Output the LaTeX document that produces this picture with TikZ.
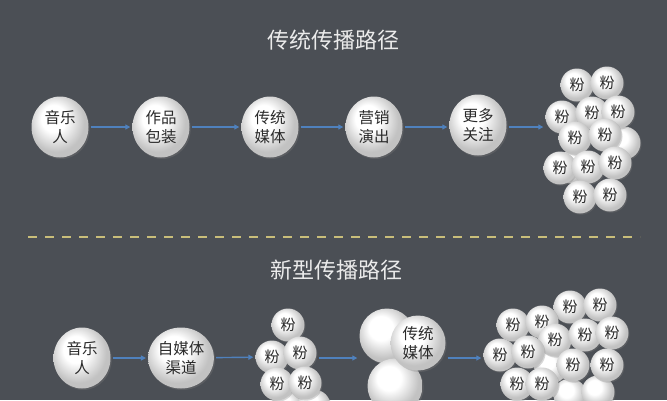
\documentclass[tikz,border=0pt]{standalone}
\usepackage{fontspec}
\newfontfamily\cjk{Noto Sans CJK SC}
\usetikzlibrary{arrows.meta,shapes.geometric,shadows}

\definecolor{bgdark}{HTML}{4B4F55}
\definecolor{arrblue}{HTML}{4F81BD}
\definecolor{dashyel}{HTML}{C9BE7A}
\definecolor{txtdark}{HTML}{2A2A2A}
\pgfdeclareradialshading{pearl}{\pgfpoint{-7bp}{9bp}}{%
  color(0bp)=(white); color(11bp)=(white); color(25bp)=(gray!48); color(50bp)=(gray!48)}

\begin{document}
\begin{tikzpicture}[
    x=1pt, y=-1pt,
    title/.style={text=white!92!black, font=\cjk\fontsize{22}{26}\selectfont},
    stage/.style={ellipse, shade, shading=pearl, minimum width=57pt, minimum height=61pt,
                  inner sep=0pt, align=center, text=txtdark,
                  font=\cjk\fontsize{15.5}{19}\selectfont,
                  drop shadow={opacity=0.3, shadow xshift=1.2pt, shadow yshift=-1.5pt}},
    fan/.style={circle, shade, shading=pearl, minimum size=33pt, inner sep=0pt,
                text=txtdark, font=\cjk\fontsize{15}{17}\selectfont,
                drop shadow={opacity=0.3, shadow xshift=1pt, shadow yshift=-1.2pt}},
    bigball/.style={circle, shade, shading=pearl, minimum size=55pt, inner sep=0pt,
                align=center, text=txtdark, font=\cjk\fontsize{15.5}{19}\selectfont,
                drop shadow={opacity=0.3, shadow xshift=1.2pt, shadow yshift=-1.5pt}},
    arr/.style={-{Triangle[length=5pt,width=5pt]}, arrblue, line width=1.4pt,
                shorten <=2pt, shorten >=2pt},
]
  \useasboundingbox (0,0) rectangle (667,400);
  \clip (0,0) rectangle (667,400);
  \fill[bgdark] (0,0) rectangle (667,400);

  % traditional path
  \node[title] (ttitle) at (333,40) {传统传播路径};
  \node[stage] (t1) at (60,127)  {音乐\\人};
  \node[stage] (t2) at (161,127) {作品\\包装};
  \node[stage] (t3) at (270,127) {传统\\媒体};
  \node[stage] (t4) at (374,127) {营销\\演出};
  \node[stage] (t5) at (478,125) {更多\\关注};

  \node[fan] (th1) at (624,143) {};
  \node[fan] (th2) at (572,167) {};
  \foreach \px/\py [count=\i] in {577/85, 607/83, 562/117, 592/113, 618/112,
      575/138, 605/135, 560/168, 588/167, 615/163, 580/197, 610/195}
    \node[fan] (tf\i) at (\px,\py) {粉};

  \draw[arr] (t1) -- (t2);
  \draw[arr] (t2) -- (t3);
  \draw[arr] (t3) -- (t4);
  \draw[arr] (t4) -- (t5.west |- t4);
  \draw[arr] (t5.east |- t4) -- (t4 -| tf3.west);

  % separator
  \coordinate (sepl) at (28,237);
  \coordinate (sepr) at (640,237);
  \draw[dashyel, line width=1.3pt, dash pattern=on 9pt off 8pt] (sepl) -- (sepr);

  % new path
  \node[title] (ntitle) at (336,270) {新型传播路径};
  \node[stage] (b1) at (82,358)  {音乐\\人};
  \node[stage] (b2) at (181,358) {自媒体\\渠道};

  \node[fan] (mh1) at (287,408) {};
  \node[fan] (mh2) at (314,406) {};
  \foreach \px/\py [count=\i] in {288/325, 272/357, 300/353, 277/384, 305/383}
    \node[fan] (mf\i) at (\px,\py) {粉};

  \node[bigball] (bg1) at (387,336) {};
  \node[bigball] (bg3) at (395,386) {};
  \node[bigball] (bg2) at (418,343) {传统\\媒体};

  \node[fan] (nh1) at (551,367) {};
  \node[fan] (nh2) at (570,395) {};
  \node[fan] (nh3) at (598,392) {};
  \foreach \px/\py [count=\i] in {570/307, 600/305, 513/325, 542/322,
      555/340, 585/335, 612/333, 500/355, 528/352, 573/365, 607/365,
      517/384, 542/384}
    \node[fan] (nf\i) at (\px,\py) {粉};

  \draw[arr] (b1) -- (b2);
  \draw[arr] (b2) -- (mf2);
  \draw[arr] (mf3.east |- b2) -- (b2 -| bg1.west);
  \draw[arr] (bg2.east |- b2) -- (b2 -| nf8.west);
\end{tikzpicture}
\end{document}
